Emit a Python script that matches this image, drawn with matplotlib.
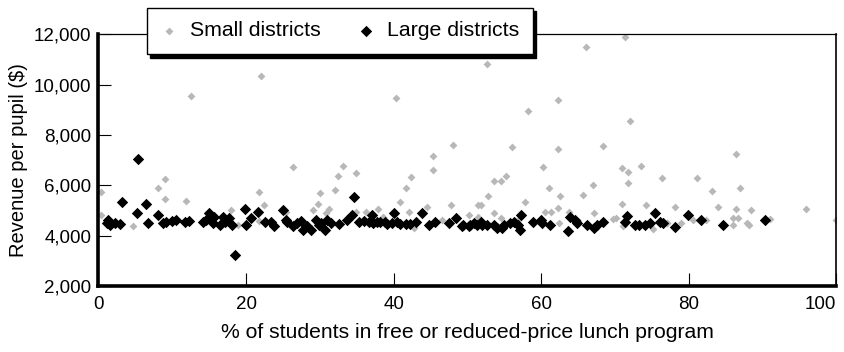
import matplotlib
matplotlib.use('Agg')
import matplotlib.pyplot as plt
from matplotlib.ticker import StrMethodFormatter

plt.rcParams['font.family'] = ['Liberation Sans', 'DejaVu Sans']

# small districts: % free/reduced lunch, revenue per pupil
small_pct = [
    22.0, 12.6, 40.3, 48.0, 45.3, 45.3, 26.3, 33.1, 32.4, 34.9, 42.3, 9.05,
    71.3, 66.1, 52.6, 62.2, 58.2, 72.0, 56.0, 62.2, 68.3, 86.4, 60.2, 70.9,
    71.8, 73.5, 55.2, 76.4, 81.1, 53.6, 54.6,
    61.1, 67.0, 71.8, 83.1, 86.9, 52.8, 62.6, 65.7, 51.8, 57.8, 70.9, 74.2,
    78.1, 84.0, 86.4, 88.4, 95.9, 99.9, 91.0,
    8.0, 9.05, 11.9, 0.3, 0.4, 4.7, 17.9, 18.9, 21.8, 22.4, 21.7,
    30.0, 32.0, 29.8, 41.6, 40.9, 47.7, 44.5, 29.1, 30.8, 31.2, 34.9, 36.2,
    37.9, 42.1, 42.8, 50.2, 51.4, 25.4,
    53.6, 54.6, 60.5, 61.3, 62.3, 63.8, 67.2, 69.7, 70.1, 75.2, 77.1, 56.9,
    78.9, 80.5, 82.3, 86.0, 86.7, 86.0, 87.9, 88.2, 77.0,
    51.4, 62.4, 71.1, 15.5, 38.5, 46.5, 65.0,
]
small_rev = [
    10350, 9530, 9470, 7610, 7180, 6620, 6750, 6790, 6360, 6480, 6320, 6250,
    11870, 11490, 10800, 9400, 8960, 8570, 7510, 7430, 7550, 7250, 6750, 6690,
    6540, 6790, 6380, 6300, 6300, 6180, 6180,
    5900, 6030, 6100, 5790, 5900, 5600, 5600, 5640, 5220, 5330, 5270, 5220,
    5130, 5130, 5080, 5010, 5080, 4630, 4690,
    5900, 5460, 5390, 5750, 4840, 4380, 5010, 4440, 5760, 5210, 4610,
    5720, 5830, 5270, 5900, 5340, 5240, 5140, 5010, 4900, 5080, 4970, 4940,
    5080, 4940, 4310, 4840, 5240, 4970,
    4900, 4710, 4970, 4970, 5100, 4970, 4900, 4670, 4710, 4280, 4530, 4640,
    4510, 4640, 4640, 4710, 4710, 4440, 4530, 4440, 4530,
    4770, 4510, 4380, 4700, 4750, 4650, 4600,
]

# large districts
large_pct = [
    5.4, 3.2, 6.5, 5.2, 8.1, 1.3, 1.5, 1.1, 2.2, 2.9, 6.7, 8.7, 9.2, 9.9,
    10.5, 11.7, 12.3, 14.1, 15.0, 14.6, 15.7, 15.5, 16.4, 17.1, 17.7, 18.1,
    18.5, 19.8, 20.7, 20.0, 21.6, 22.5, 23.8, 23.4, 25.0, 25.6, 16.9,
    34.6, 25.4, 26.3, 27.4, 27.7, 28.3, 28.8, 29.5, 29.9, 30.7, 31.5, 32.6,
    33.7, 34.4, 36.0, 37.0, 37.2, 38.2, 39.1, 40.0, 39.8, 40.9, 41.6, 43.0,
    43.8, 44.8, 45.6, 47.5, 48.4, 49.3, 50.4, 51.3,
    35.3, 36.7, 37.8, 38.8, 40.4, 42.2, 30.2, 31.0, 26.9,
    49.4, 50.2, 50.9, 51.8, 52.0, 52.7, 53.6, 54.0, 54.7, 54.9, 55.8, 56.3,
    57.3, 57.1, 56.9, 58.9, 59.9, 60.1, 61.2, 63.6, 63.9, 64.6, 64.8, 66.2,
    67.1, 67.5, 68.4, 71.6, 71.4, 72.7, 73.2, 74.1, 74.7, 75.4, 76.1, 76.5,
    78.1, 79.9, 81.6, 84.6, 90.3,
]
large_rev = [
    7050, 5330, 5270, 4900, 4840, 4640, 4440, 4510, 4510, 4480, 4510, 4510, 4570, 4600,
    4640, 4570, 4610, 4570, 4930, 4640, 4770, 4510, 4440, 4570, 4710, 4440,
    3240, 5080, 4710, 4440, 4940, 4570, 4400, 4570, 5010, 4570, 4770,
    5560, 4640, 4380, 4610, 4220, 4400, 4240, 4640, 4440, 4240, 4530, 4480,
    4640, 4840, 4610, 4830, 4510, 4570, 4480, 4900, 4530, 4480, 4480, 4570,
    4900, 4440, 4570, 4530, 4710, 4400, 4440, 4440,
    4570, 4570, 4570, 4570, 4570, 4480, 4510, 4640, 4510,
    4440, 4380, 4510, 4570, 4440, 4440, 4440, 4310, 4310, 4440, 4510, 4570,
    4840, 4240, 4440, 4550, 4640, 4510, 4440, 4180, 4770, 4640, 4510, 4440,
    4310, 4440, 4550, 4810, 4570, 4440, 4440, 4440, 4510, 4900, 4570, 4510,
    4340, 4840, 4630, 4440, 4630,
]

x_ticks = [0, 20, 40, 60, 80, 100]
y_ticks = [2000, 4000, 6000, 8000, 10000, 12000]

fig, ax = plt.subplots(figsize=(8.44, 3.52), dpi=100)
fig.subplots_adjust(left=0.1167, right=0.9911, bottom=0.1861, top=0.9034)

ax.scatter(small_pct, small_rev, marker='D', s=4.0 ** 2, color='#b8b8b8',
           linewidths=0, label='Small districts', zorder=2)
ax.scatter(large_pct, large_rev, marker='D', s=5.8 ** 2, color='black',
           linewidths=0, label='Large districts', zorder=3)

ax.set_xlim(0, 100)
ax.set_ylim(2000, 12000)
ax.set_xticks(x_ticks)
ax.set_yticks(y_ticks)
ax.yaxis.set_major_formatter(StrMethodFormatter('{x:,.0f}'))
ax.tick_params(axis='both', direction='in', length=9.5, width=0.8,
               labelsize=13.5, color='black')
ax.tick_params(axis='x', pad=7)
ax.tick_params(axis='y', pad=5)
# keep the last x label inside the figure
ax.get_xticklabels()[-1].set_horizontalalignment('right')

ax.spines['left'].set_linewidth(2.6)
ax.spines['bottom'].set_linewidth(2.6)
ax.spines['top'].set_linewidth(0.9)
ax.spines['right'].set_linewidth(1.2)

ax.set_xlabel('% of students in free or reduced-price lunch program',
              fontsize=15.2, labelpad=7)
ax.set_ylabel('Revenue per pupil ($)', fontsize=14.5, labelpad=4)

leg = ax.legend(loc='center', bbox_to_anchor=(0.327, 1.012), ncol=2,
                fontsize=15.3, frameon=True, fancybox=False,
                shadow={'ox': 2.5, 'oy': -2.5, 'color': 'black', 'alpha': 1},
                handlelength=0.8, handletextpad=0.56, columnspacing=1.76,
                borderpad=0.65, scatterpoints=1)
leg.get_frame().set_edgecolor('black')
leg.get_frame().set_linewidth(1.0)
leg.get_frame().set_alpha(1)
leg.set_zorder(5)

plt.savefig('out.png', dpi=100)
